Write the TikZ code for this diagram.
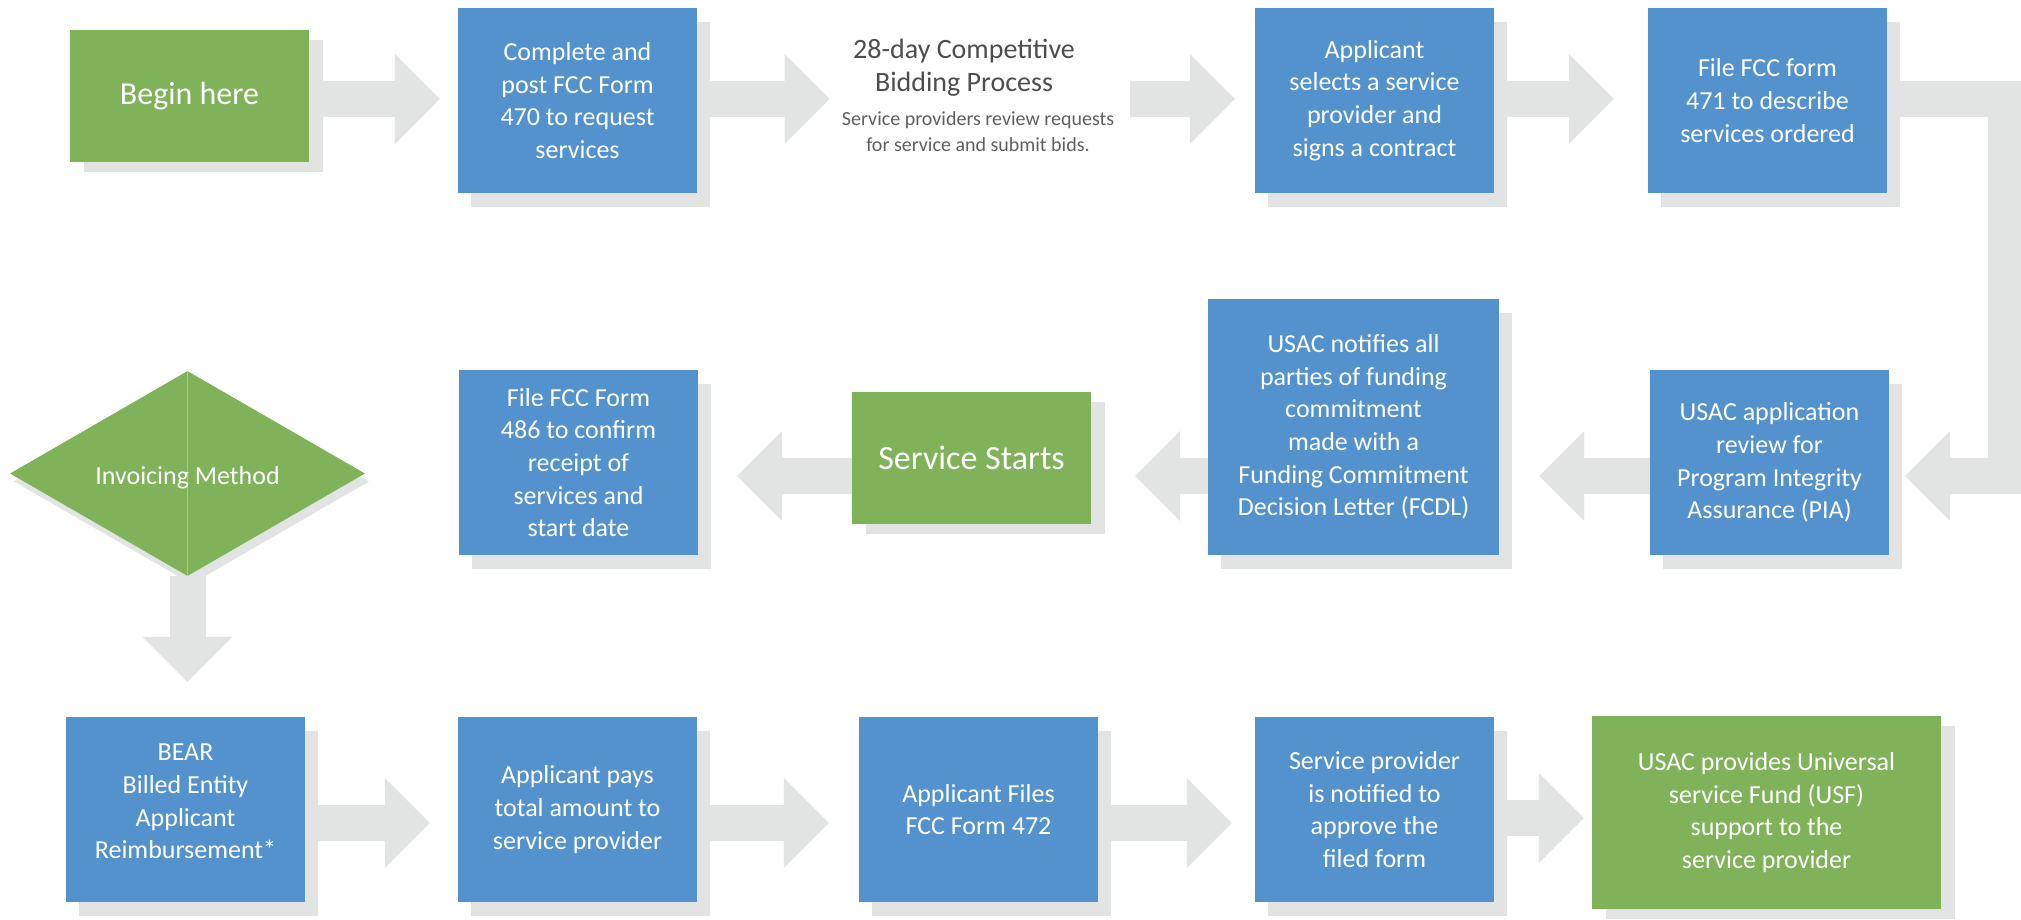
\documentclass[tikz,border=0pt]{standalone}
\usepackage{fontspec}
\setmainfont{Carlito}
\usetikzlibrary{arrows.meta,shapes.geometric,shadows}
\definecolor{boxblue}{RGB}{84,146,206}
\definecolor{boxgreen}{RGB}{128,179,89}
\definecolor{flowgray}{RGB}{226,227,227}
\definecolor{bidgray}{RGB}{77,77,77}
\definecolor{notegray}{RGB}{95,95,95}
\begin{document}
\begin{tikzpicture}[x=1pt,y=-1pt,
    card/.style={text=white, align=center, inner sep=0pt, minimum width=239pt},
    blue box/.style={card, fill=boxblue, minimum height=185pt, font=\fontsize{26}{32.7}\selectfont,
        drop shadow={shadow xshift=13pt, shadow yshift=-14pt, fill=flowgray, opacity=1}},
    green box/.style={card, fill=boxgreen, minimum height=132pt, font=\fontsize{34}{40}\selectfont,
        drop shadow={shadow xshift=14pt, shadow yshift=-10pt, fill=flowgray, opacity=1}},
    flow/.style={draw=flowgray, line width=36pt, -{Triangle[width=90pt,length=45pt,line width=0pt]}}]
    \useasboundingbox (0,0) rectangle (2021,920);
    \coordinate (r1) at (0,99);
    \coordinate (r2) at (0,476);
    \coordinate (r3) at (0,823);
    \coordinate (c1) at (2006,99);
    \coordinate (c2) at (2006,476);
    \node[green box, font=\fontsize{32}{38}\selectfont] (begin) at (189.5,96) {Begin here};
    \node[blue box] (post) at (577.5,100.5) {Complete and\\post FCC Form\\470 to request\\services};
    \node[text=bidgray, align=center, inner sep=0pt, font=\fontsize{28}{33}\selectfont] (bid) at (964,68) {28-day Competitive\\Bidding Process};
    \node[text=notegray, align=center, inner sep=0pt, font=\fontsize{20}{26}\selectfont] (bidnote) at (978,132) {Service providers review requests\\for service and submit bids.};
    \node[blue box] (select) at (1374.5,100.5) {Applicant\\selects a service\\provider and\\signs a contract};
    \node[blue box] (file471) at (1767.5,100.5) {File FCC form\\471 to describe\\services ordered};
    \node[blue box] (pia) at (1769.5,462.5) {USAC application\\review for\\Program Integrity\\Assurance (PIA)};
    \node[blue box, minimum width=291pt, minimum height=256pt] (fcdl) at (1353.5,427) {USAC notifies all\\parties of funding\\commitment\\made with a\\Funding Commitment\\Decision Letter (FCDL)};
    \node[green box] (starts) at (971.5,458) {Service Starts};
    \node[blue box] (f486) at (578.5,462.5) {File FCC Form\\486 to confirm\\receipt of\\services and\\start date};
    \node[diamond, fill=boxgreen, text=white, inner sep=0pt, minimum width=355pt, minimum height=205pt,
        font=\fontsize{26}{32}\selectfont,
        drop shadow={shadow xshift=4pt, shadow yshift=-8pt, fill=flowgray, opacity=1}] (inv) at (187.5,473.5) {};
    \draw[boxgreen!70!white, line width=0.8pt] (inv.north) -- (inv.south);
    \node[text=white, font=\fontsize{26}{32}\selectfont] at ([yshift=-4pt]inv) {Invoicing Method};
    \node[blue box, text depth=16pt] (bear) at (185.5,809.5) {BEAR\\Billed Entity\\Applicant\\Reimbursement*};
    \node[blue box] (pays) at (577.5,809.5) {Applicant pays\\total amount to\\service provider};
    \node[blue box] (f472) at (978.5,809.5) {Applicant Files\\FCC Form 472};
    \node[blue box] (notify) at (1374.5,809.5) {Service provider\\is notified to\\approve the\\filed form};
    \node[green box, minimum width=349pt, minimum height=193pt, font=\fontsize{26}{32.7}\selectfont] (usf) at (1766.5,812.5) {USAC provides Universal\\service Fund (USF)\\support to the\\service provider};
    \draw[flow, shorten >=18pt] (begin.east |- r1) -- (post.west |- r1);
    \draw[flow, shorten >=12pt] (post.east |- r1) -- (bidnote.west |- r1);
    \draw[flow, shorten <=16pt, shorten >=20pt] (bidnote.east |- r1) -- (select.west |- r1);
    \draw[flow, shorten >=34pt] (select.east |- r1) -- (file471.west |- r1);
    \draw[flow, line join=miter, shorten >=16pt] (file471.east |- r1) -- (c1) -- (c2) -- (pia.east |- r2);
    \draw[flow, shorten >=40pt] (pia.west |- r2) -- (fcdl.east |- r2);
    \draw[flow, shorten >=44pt] (fcdl.west |- r2) -- (starts.east |- r2);
    \draw[flow, shorten >=39pt] (starts.west |- r2) -- (f486.east |- r2);
    \draw[flow, shorten >=35pt] (inv.south) -- (inv.south |- bear.north);
    \draw[flow, shorten >=28pt] (bear.east |- r3) -- (pays.west |- r3);
    \draw[flow, shorten >=30pt] (pays.east |- r3) -- (f472.west |- r3);
    \draw[flow, shorten >=23pt] (f472.east |- r3) -- (notify.west |- r3);
    \draw[flow, shorten >=8pt] ([yshift=5pt]notify.east |- r3) -- ([yshift=5pt]usf.west |- r3);
\end{tikzpicture}
\end{document}
